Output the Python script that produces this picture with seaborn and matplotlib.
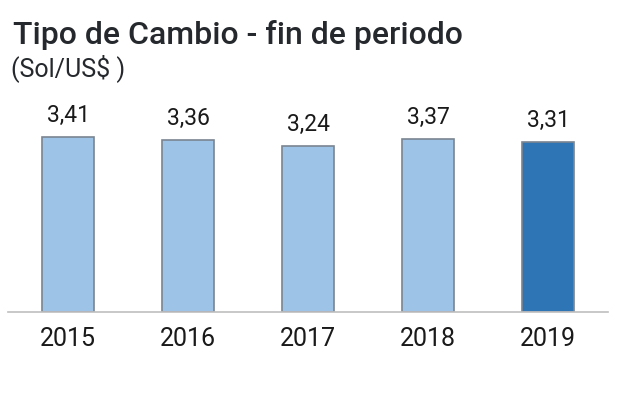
import matplotlib
matplotlib.use("Agg")
import matplotlib.pyplot as plt
import seaborn as sns
import pandas as pd

years = ["2015", "2016", "2017", "2018", "2019"]
values = [3.41, 3.36, 3.24, 3.37, 3.31]
value_labels = ["3,41", "3,36", "3,24", "3,37", "3,31"]
title = "Tipo de Cambio - fin de periodo"
subtitle = "(Sol/US$ )"

sns.set_theme(style="white")
plt.rcParams["font.family"] = ["Roboto", "DejaVu Sans"]

df = pd.DataFrame({"year": years, "value": values})
palette = {y: "#9DC3E6" for y in years}
palette["2019"] = "#2E75B6"

fig = plt.figure(figsize=(6.2, 4.05), dpi=100)
ax = fig.add_axes([8 / 620, 1 - 312 / 405, 600 / 620, 212 / 405])
sns.barplot(data=df, x="year", y="value", hue="year", palette=palette,
            legend=False, width=0.44, edgecolor="#7a8591", linewidth=1.2,
            saturation=1, ax=ax)
ax.set_xlim(-0.5, 4.5)
ax.set_ylim(0, 212 / 51.3)
for s in ["top", "right", "left"]:
    ax.spines[s].set_visible(False)
ax.spines["bottom"].set_color("#bfbfbf")
ax.spines["bottom"].set_linewidth(1.2)
ax.set_yticks([])
ax.set_xlabel("")
ax.set_ylabel("")
ax.tick_params(axis="x", length=0, pad=11)
for lab in ax.get_xticklabels():
    lab.set_fontsize(18)
    lab.set_color("#1a1a1a")

for i, (v, t) in enumerate(zip(values, value_labels)):
    ax.annotate(t, (i, v), xytext=(0, 10.8), textcoords="offset points",
                ha="center", va="baseline", fontsize=16.5, color="#1a1a1a")

fig.text(13 / 620, 1 - 44 / 405, title, fontsize=23, fontweight="medium",
         color="#25282c", ha="left", va="baseline")
fig.text(11 / 620, 1 - 76 / 405, subtitle, fontsize=18, color="#25282c",
         ha="left", va="baseline")

fig.savefig("out.png", dpi=100)
